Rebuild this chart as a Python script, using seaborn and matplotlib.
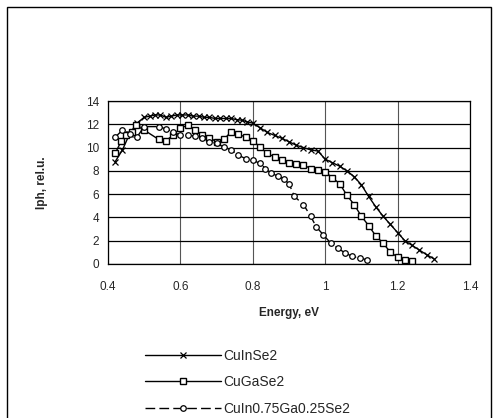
import matplotlib
matplotlib.use("Agg")
import matplotlib.pyplot as plt
import matplotlib.patches as mpatches
import seaborn as sns
import numpy as np

# ---- data ----
cuinse2_e = [0.42, 0.44, 0.46, 0.48, 0.50, 0.515, 0.53, 0.545, 0.56, 0.575, 0.59, 0.605, 0.62,
             0.635, 0.65, 0.665, 0.68, 0.695, 0.71, 0.725, 0.74, 0.755, 0.77, 0.785, 0.80,
             0.82, 0.84, 0.86, 0.88, 0.90, 0.92, 0.94, 0.96, 0.98, 1.00, 1.02, 1.04, 1.06,
             1.08, 1.10, 1.12, 1.14, 1.16, 1.18, 1.20, 1.22, 1.24, 1.26, 1.28, 1.30]
cuinse2_v = [8.8, 9.8, 11.2, 12.1, 12.6, 12.7, 12.8, 12.8, 12.6, 12.7, 12.8, 12.8, 12.8,
             12.7, 12.7, 12.6, 12.6, 12.5, 12.5, 12.5, 12.5, 12.4, 12.35, 12.2, 12.1,
             11.7, 11.3, 11.05, 10.8, 10.5, 10.2, 10.0, 9.8, 9.7, 9.0, 8.7, 8.4, 8.0,
             7.5, 6.8, 5.8, 4.9, 4.1, 3.4, 2.7, 2.0, 1.6, 1.2, 0.8, 0.45]

cugase2_e = [0.42, 0.437, 0.45, 0.465, 0.478, 0.50, 0.54, 0.56, 0.58, 0.60, 0.62, 0.64,
             0.66, 0.68, 0.70, 0.72, 0.74, 0.76, 0.78, 0.80, 0.82, 0.84, 0.86, 0.88,
             0.90, 0.92, 0.94, 0.96, 0.98, 1.00, 1.02, 1.04, 1.06, 1.08, 1.10, 1.12,
             1.14, 1.16, 1.18, 1.20, 1.22, 1.24]
cugase2_v = [9.5, 10.6, 11.1, 11.35, 11.9, 11.5, 10.7, 10.6, 11.05, 11.7, 11.9, 11.5,
             11.05, 10.85, 10.5, 10.7, 11.35, 11.15, 10.9, 10.6, 10.05, 9.5, 9.2, 8.9,
             8.7, 8.6, 8.5, 8.2, 8.05, 7.9, 7.4, 6.9, 5.9, 5.1, 4.1, 3.3,
             2.4, 1.8, 1.0, 0.6, 0.35, 0.25]

cuingase2_e = [0.42, 0.44, 0.46, 0.48, 0.50, 0.54, 0.56, 0.58, 0.60, 0.62, 0.64, 0.66,
               0.68, 0.70, 0.72, 0.74, 0.76, 0.78, 0.80, 0.82, 0.835, 0.85, 0.87, 0.885,
               0.90, 0.915, 0.94, 0.96, 0.975, 0.995, 1.015, 1.035, 1.055, 1.075, 1.095, 1.115]
cuingase2_v = [10.9, 11.5, 11.2, 10.9, 11.8, 11.8, 11.6, 11.35, 11.05, 11.05, 11.0, 10.85,
               10.5, 10.35, 10.05, 9.8, 9.35, 9.05, 8.9, 8.65, 8.2, 7.8, 7.55, 7.3,
               6.9, 5.8, 5.1, 4.1, 3.2, 2.5, 1.8, 1.35, 0.95, 0.65, 0.5, 0.37]

labels = ["CuInSe2", "CuGaSe2", "CuIn0.75Ga0.25Se2"]
x_ticks = [0.4, 0.6, 0.8, 1.0, 1.2, 1.4]
x_tick_labels = ["0.4", "0.6", "0.8", "1", "1.2", "1.4"]
y_ticks = [0, 2, 4, 6, 8, 10, 12, 14]

# ---- figure ----
sns.set_style("white")
plt.rcParams['font.family'] = ['Liberation Sans', 'DejaVu Sans']

fig = plt.figure(figsize=(4.96, 4.18), dpi=100)
ax = fig.add_axes([108/496, 1-264/418, (470-108)/496, (264-101)/418])

sns.lineplot(x=cuinse2_e, y=cuinse2_v, ax=ax, color='black', lw=1.0, marker='x',
             markersize=4.5, markeredgecolor='black', markeredgewidth=0.9, label=labels[0])
sns.lineplot(x=cugase2_e, y=cugase2_v, ax=ax, color='black', lw=1.0, marker='s',
             markersize=4.5, markerfacecolor='white', markeredgecolor='black',
             markeredgewidth=1.0, label=labels[1])
sns.lineplot(x=cuingase2_e, y=cuingase2_v, ax=ax, color='black', lw=1.0, marker='o',
             markersize=4, markerfacecolor='white', markeredgecolor='black',
             markeredgewidth=0.9, linestyle=(0, (7, 3)), label=labels[2])

ax.set_xlim(0.4, 1.4)
ax.set_ylim(0, 14)
ax.set_xticks(x_ticks)
ax.set_xticklabels(x_tick_labels)
ax.set_yticks(y_ticks)
ax.grid(True, axis='y', color='black', lw=0.9)
ax.grid(True, axis='x', color='#555555', lw=0.8)
ax.set_axisbelow(True)
for s in ax.spines.values():
    s.set_color('black')
    s.set_linewidth(0.9)
ax.tick_params(axis='both', labelsize=8.5, length=3, color='black', direction='out')
ax.tick_params(axis='x', pad=9)
ax.set_xlabel("Energy, eV", fontsize=8.5, fontweight='bold', labelpad=10)
ax.set_ylabel("Iph, rel.u.", fontsize=8.5, fontweight='bold', labelpad=27)

handles, lbls = ax.get_legend_handles_labels()
ax.get_legend().remove()
fig.legend(handles, lbls, loc='upper left', bbox_to_anchor=(139/496, 1-343/418),
           frameon=False, fontsize=10, handlelength=5.5, handletextpad=0.2,
           labelspacing=0.9, borderaxespad=0)

rect = mpatches.Rectangle((7/496, -0.05), (491-7)/496, 1-7/418+0.05, transform=fig.transFigure,
                          fill=False, edgecolor='black', lw=1.0)
fig.patches.append(rect)

fig.savefig("out.png", dpi=100)
